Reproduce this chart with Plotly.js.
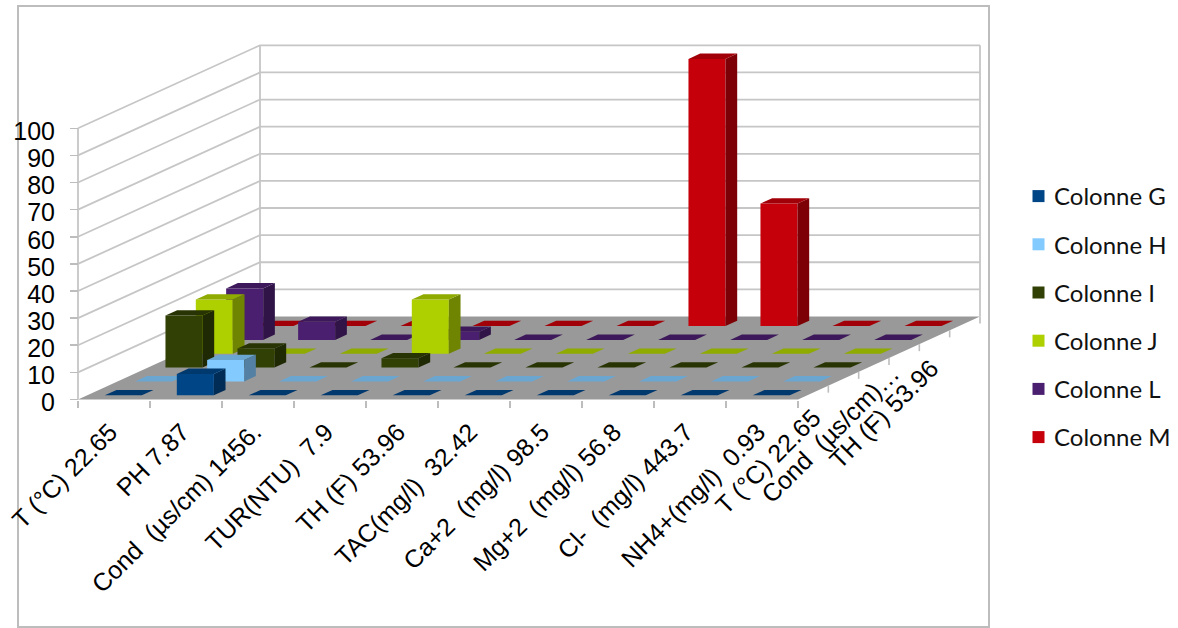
<!DOCTYPE html>
<html>
<head>
<meta charset="utf-8">
<script src="https://cdn.plot.ly/plotly-3.0.1.min.js"></script>
<style>html,body{margin:0;padding:0;background:#fff}#chart{width:1178px;height:628px}</style>
</head>
<body>
<div id="chart"></div>
<script>
// Parameters along the front axis
const categories = ['T (°C) 22.65', 'PH 7.87', 'Cond \u00a0(µs/cm) 1456.', 'TUR(NTU) \u00a07.9', 'TH (F) 53.96',
  'TAC(mg/l) \u00a032.42', 'Ca+2 \u00a0(mg/l) 98.5', 'Mg+2 \u00a0(mg/l) 56.8', 'Cl- \u00a0(mg/l) 443.7', 'NH4+(mg/l) \u00a00.93'];
// Labels along the depth axis and the depth slot each one sits at
const depthLabels = ['T (°C) 22.65', 'Cond \u00a0(µs/cm)…', 'TH (F) 53.96'];
const depthSlots = [0.5, 2.5, 4.5];

// Series values, one per category
const seriesNames = ['Colonne G', 'Colonne H', 'Colonne I', 'Colonne J', 'Colonne L', 'Colonne M'];
const colonneG = [0, 7.87, 0, 0, 0, 0, 0, 0, 0, 0];
const colonneH = [0, 7.9, 0, 0, 0, 0, 0, 0, 0, 0];
const colonneI = [19.2, 7, 0, 3.4, 0, 0, 0, 0, 0, 0];
const colonneJ = [20, 0, 0, 20, 0, 0, 0, 0, 0, 0];
const colonneL = [19, 6.7, 0, 3, 0, 0, 0, 0, 0, 0];
const colonneM = [0, 0, 0, 0, 0, 0, 98.5, 45.2, 0, 0];
const seriesValues = [colonneG, colonneH, colonneI, colonneJ, colonneL, colonneM];
const yTicks = [0, 10, 20, 30, 40, 50, 60, 70, 80, 90, 100];

const seriesColors = ['#004586', '#83caff', '#314004', '#aecf00', '#4b1f6f', '#c5000b'];

// Chart geometry: pixels per axis unit and the location of the axis origin
const W = 1178, H = 628;
const pxPerCat = 72, pxPerVal = 2.712, originX = 78, originY = 399.5;
const rows = seriesNames.length;
const depthPerRowX = (182 / rows) / pxPerCat;   // shear of one series row, in category units
const depthPerRowY = (83 / rows) / pxPerVal;    // shear of one series row, in value units
const barWidth = 0.514, barDepth = 0.386;
const gridColor = '#c6c6c6', tickColor = '#bdbdbd', floorColor = '#999999';

function shade(hex, f) {
  const n = parseInt(hex.slice(1), 16);
  const c = [n >> 16, (n >> 8) & 255, n & 255].map(v => Math.round(v * f));
  return 'rgb(' + c.join(',') + ')';
}

// Oblique projection: category position, depth row and value map onto the plot's axes
const project = (c, d, v) => [c + d * depthPerRowX, v + d * depthPerRowY];

function polyTrace(polys, color) {
  const x = [], y = [];
  polys.forEach(p => {
    p.forEach(q => { x.push(q[0]); y.push(q[1]); });
    x.push(p[0][0], null); y.push(p[0][1], null);
  });
  return {x, y, mode: 'lines', fill: 'toself', fillcolor: color, line: {width: 0, color}, showlegend: false, hoverinfo: 'skip'};
}
function lineTrace(segments, color, width) {
  const x = [], y = [];
  segments.forEach(s => {
    s.forEach(q => { x.push(q[0]); y.push(q[1]); });
    x.push(null); y.push(null);
  });
  return {x, y, mode: 'lines', line: {color, width}, showlegend: false, hoverinfo: 'skip'};
}

const traces = [];

// Floor of the box
traces.push(polyTrace([[project(0, 0, 0), project(10, 0, 0), project(10, rows, 0), project(0, rows, 0)]], floorColor));

// Gridlines on the left and back walls
const gridSegs = [];
yTicks.forEach(v => {
  if (v > 0) gridSegs.push([project(0, 0, v), project(0, rows, v), project(10, rows, v)]);
});
gridSegs.push([project(0, 0, 0), project(0, 0, 100)]);
gridSegs.push([project(0, rows, 0), project(0, rows, 100)]);
gridSegs.push([project(10, rows, 0), project(10, rows, 100)]);
traces.push(lineTrace(gridSegs, gridColor, 1.8));

// Depth-axis tick marks on the right floor edge
const depthTicks = [];
for (let d = 1; d <= rows; d++) {
  const p = project(10, d, 0);
  depthTicks.push([p, [p[0], p[1] - 7 / pxPerVal]]);
}
traces.push(lineTrace(depthTicks, tickColor, 1.6));

// Columns, painted from the back row to the front row
for (let s = rows - 1; s >= 0; s--) {
  const front = [], side = [], top = [];
  seriesValues[s].forEach((v, c) => {
    const x0 = c + 0.5 - barWidth / 2, x1 = c + 0.5 + barWidth / 2;
    const d0 = s + 0.5 - barDepth / 2, d1 = s + 0.5 + barDepth / 2;
    if (v > 0) {
      front.push([project(x0, d0, 0), project(x1, d0, 0), project(x1, d0, v), project(x0, d0, v)]);
      side.push([project(x1, d0, 0), project(x1, d1, 0), project(x1, d1, v), project(x1, d0, v)]);
    }
    top.push([project(x0, d0, v), project(x1, d0, v), project(x1, d1, v), project(x0, d1, v)]);
  });
  traces.push(polyTrace(front, seriesColors[s]));
  traces.push(polyTrace(side, shade(seriesColors[s], 0.64)));
  traces.push(polyTrace(top, shade(seriesColors[s], 0.82)));
}

// Legend carriers, one group per series so that the row gap applies
seriesNames.forEach((name, s) => {
  traces.push({x: [null], y: [null], mode: 'markers', name, legendgroup: name, hoverinfo: 'skip',
    marker: {symbol: 'square', size: 15.5, color: seriesColors[s]}});
});

const labelFont = {family: '"Liberation Sans", Arial, sans-serif', size: 25, color: '#000'};

const frame = {type: 'rect', xref: 'paper', yref: 'paper', x0: 18 / W, x1: 989 / W, y0: 1 - 627 / H, y1: 1 - 6 / H,
  line: {color: '#bdbdbd', width: 2}, layer: 'below'};

// Offsets of the depth-axis labels from their slot on the floor edge
const depthShiftX = [16, 33, 12], depthShiftY = [-8, 8, -14];

const layout = {
  width: W, height: H, margin: {l: 0, r: 0, t: 0, b: 0},
  paper_bgcolor: '#fff', plot_bgcolor: 'rgba(0,0,0,0)',
  showlegend: true,
  legend: {x: 1014 / W, y: 1 - 174 / H, xanchor: 'left', yanchor: 'top', tracegroupgap: 14, itemsizing: 'constant',
    itemwidth: 30, bgcolor: 'rgba(0,0,0,0)',
    font: {family: 'Lato, "Open Sans", sans-serif', size: 24, color: '#111'}},
  xaxis: {
    range: [-originX / pxPerCat, (W - originX) / pxPerCat],
    anchor: 'free', position: (H - originY) / H,
    showgrid: false, zeroline: false, showline: false,
    tickmode: 'array', tickvals: categories.map((_, i) => i + 0.5), ticktext: categories,
    tickangle: -45, ticks: '', tickfont: labelFont, ticklabelstandoff: 12, ticklabelshift: -4,
    minor: {tickmode: 'array', tickvals: Array.from({length: 11}, (_, i) => i), ticks: 'outside', ticklen: 7, tickcolor: tickColor, tickwidth: 1.6, showgrid: false}
  },
  yaxis: {
    range: [-(H - originY) / pxPerVal, originY / pxPerVal],
    anchor: 'free', position: originX / W,
    showgrid: false, zeroline: false, showline: false,
    tickmode: 'array', tickvals: yTicks,
    ticks: 'outside', ticklen: 8, tickcolor: tickColor, tickwidth: 1.6, tickfont: labelFont,
    ticklabelstandoff: 10, ticklabelshift: 3
  },
  shapes: [frame],
  annotations: depthLabels.map((text, i) => {
    const p = project(10, depthSlots[i], 0);
    return {x: p[0], y: p[1], xref: 'x', yref: 'y', text, showarrow: false, textangle: -45,
      xanchor: 'right', yanchor: 'top', font: labelFont, xshift: depthShiftX[i], yshift: depthShiftY[i]};
  })
};

Plotly.newPlot('chart', traces, layout, {staticPlot: true, displayModeBar: false}).then(() => {
  // Tighten the gap between the legend swatches and their names
  document.querySelectorAll('.legend .legendsymbols').forEach(g => g.setAttribute('transform', 'translate(4.5,0)'));
});
</script>
</body>
</html>
